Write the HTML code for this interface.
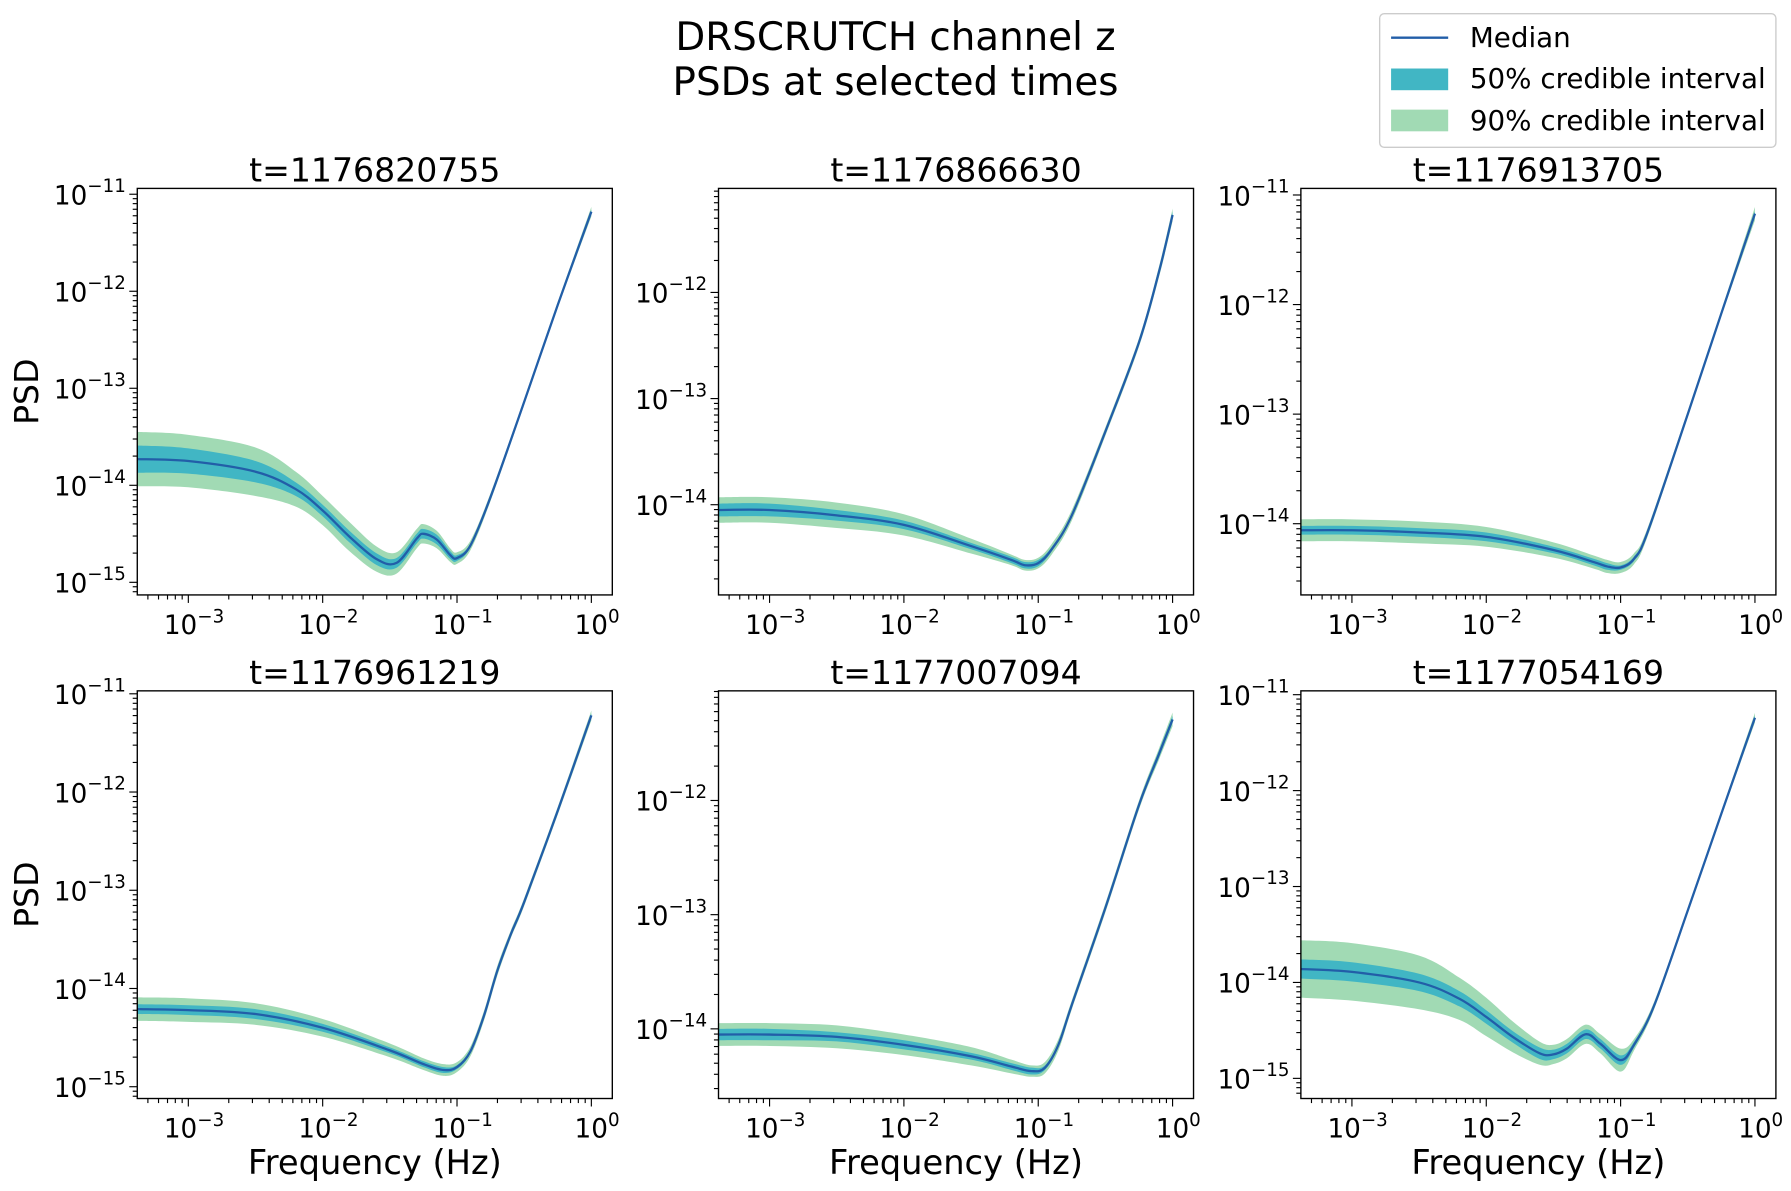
<!DOCTYPE html>
<html><head><meta charset="utf-8">
<style>
html,body{margin:0;padding:0;background:#fff;}
svg{display:block;font-family:"DejaVu Sans","Liberation Sans",sans-serif;}
</style></head>
<body>
<svg id="fig" width="1791" height="1191" viewBox="0 0 1568 1043" xmlns="http://www.w3.org/2000/svg">
<text x="784" y="44" font-size="34" text-anchor="middle">DRSCRUTCH channel z</text>
<text x="784" y="83" font-size="34" text-anchor="middle">PSDs at selected times</text>
<g>
<rect x="1208" y="12" width="347" height="117" rx="4" fill="#fff" stroke="#ccc" stroke-width="1.2"/>
<line x1="1218" y1="33" x2="1268" y2="33" stroke="#225ea8" stroke-width="2"/>
<text x="1287" y="41" font-size="24.3">Median</text>
<rect x="1218" y="60" width="50" height="19" fill="#41b6c4"/>
<text x="1287" y="77" font-size="24.3">50% credible interval</text>
<rect x="1218" y="96" width="50" height="19" fill="#a1dab4"/>
<text x="1287" y="114" font-size="24.3">90% credible interval</text>
</g>
</svg>
<script>
// x axis (log10 frequency) shared range
const xLogRange = [-3.38, 0.156];
const titles = ["t=1176820755","t=1176866630","t=1176913705","t=1176961219","t=1177007094","t=1177054169"];
const yLogRanges = [[-15.13,-10.94],[-14.85,-11.02],[-14.65,-10.94],[-15.12,-10.97],[-14.61,-11.04],[-15.21,-10.96]];
const yTickExps = [[-11,-12,-13,-14,-15],[-12,-13,-14],[-11,-12,-13,-14],[-11,-12,-13,-14,-15],[-12,-13,-14],[-11,-12,-13,-14,-15]];
const xTickExps = [-3,-2,-1,0];

const logF1 = [-3.38,-3,-2.5,-2.2,-2,-1.8,-1.6,-1.45,-1.3,-1.25,-1.15,-1.05,-1,-0.9,-0.75,-0.5,-0.25,0];
const med1 = [-13.73,-13.75,-13.86,-14.04,-14.26,-14.53,-14.76,-14.80,-14.55,-14.50,-14.56,-14.72,-14.75,-14.62,-14.12,-13.14,-12.14,-11.18];
const w90_1 = [0.28,0.27,0.25,0.18,0.15,0.15,0.13,0.11,0.1,0.1,0.09,0.07,0.06,0.05,0.04,0.03,0.03,0.05];
const w50_1 = [0.14,0.13,0.11,0.07,0.06,0.06,0.06,0.05,0.05,0.05,0.05,0.04,0.03,0.02,0.02,0.015,0.015,0.02];

const logF2 = [-3.38,-3,-2.5,-2,-1.5,-1.2,-1.1,-1,-0.9,-0.75,-0.5,-0.25,-0.1,0];
const med2 = [-14.05,-14.05,-14.10,-14.19,-14.39,-14.52,-14.57,-14.55,-14.42,-14.10,-13.31,-12.47,-11.80,-11.27];
const w90_2 = [0.12,0.12,0.12,0.1,0.07,0.05,0.05,0.05,0.05,0.05,0.04,0.04,0.05,0.06];
const w50_2 = [0.06,0.06,0.05,0.04,0.03,0.03,0.03,0.03,0.02,0.02,0.02,0.02,0.03,0.03];

const logF3 = [-3.38,-3,-2.5,-2,-1.5,-1.2,-1.1,-1,-0.9,-0.8,-0.5,-0.25,0];
const med3 = [-14.06,-14.06,-14.08,-14.12,-14.24,-14.35,-14.39,-14.40,-14.32,-14.08,-13.0,-12.08,-11.17];
const w90_3 = [0.1,0.1,0.1,0.09,0.07,0.06,0.06,0.05,0.05,0.04,0.03,0.03,0.06];
const w50_3 = [0.04,0.04,0.04,0.04,0.03,0.03,0.03,0.02,0.02,0.02,0.015,0.015,0.02];

const logF4 = [-3.38,-3,-2.5,-2,-1.5,-1.25,-1.1,-1,-0.9,-0.8,-0.7,-0.6,-0.5,-0.25,0];
const med4 = [-14.21,-14.22,-14.26,-14.40,-14.63,-14.77,-14.83,-14.80,-14.64,-14.28,-13.82,-13.45,-13.12,-12.19,-11.22];
const w90_4 = [0.12,0.12,0.11,0.09,0.07,0.06,0.06,0.05,0.05,0.05,0.05,0.04,0.04,0.04,0.05];
const w50_4 = [0.05,0.05,0.05,0.04,0.03,0.03,0.03,0.02,0.02,0.02,0.02,0.02,0.02,0.02,0.02];

const logF5 = [-3.38,-3,-2.5,-2,-1.5,-1.2,-1.05,-0.95,-0.85,-0.75,-0.5,-0.25,-0.1,0];
const med5 = [-14.05,-14.05,-14.07,-14.14,-14.24,-14.33,-14.37,-14.34,-14.14,-13.79,-12.94,-12.04,-11.59,-11.29];
const w90_5 = [0.1,0.1,0.1,0.09,0.08,0.06,0.05,0.05,0.05,0.04,0.04,0.04,0.05,0.06];
const w50_5 = [0.05,0.05,0.04,0.04,0.03,0.03,0.03,0.02,0.02,0.02,0.02,0.02,0.03,0.03];

const logF6 = [-3.38,-3,-2.5,-2.2,-2,-1.8,-1.6,-1.5,-1.4,-1.26,-1.15,-1,-0.9,-0.75,-0.5,-0.25,0];
const med6 = [-13.86,-13.89,-14.0,-14.17,-14.36,-14.57,-14.74,-14.75,-14.69,-14.54,-14.64,-14.81,-14.65,-14.24,-13.25,-12.24,-11.24];
const w90_6 = [0.3,0.3,0.28,0.22,0.2,0.16,0.12,0.1,0.1,0.1,0.1,0.12,0.06,0.04,0.03,0.03,0.05];
const w50_6 = [0.1,0.1,0.09,0.08,0.07,0.06,0.06,0.05,0.05,0.05,0.05,0.05,0.03,0.02,0.015,0.015,0.02];

const panelF = [logF1,logF2,logF3,logF4,logF5,logF6];
const panelMed = [med1,med2,med3,med4,med5,med6];
const panelW90 = [w90_1,w90_2,w90_3,w90_4,w90_5,w90_6];
const panelW50 = [w50_1,w50_2,w50_3,w50_4,w50_5,w50_6];

const NS = "http://www.w3.org/2000/svg";
const svg = document.getElementById("fig");
const colL = [120, 629, 1139], colW = 416;
const rowT = [165, 605], rowH = [356, 357];

function mk(tag, attrs, parent){ const e=document.createElementNS(NS,tag); for(const k in attrs) e.setAttribute(k,attrs[k]); parent.appendChild(e); return e; }
function smoothPath(pts){
  let d = "M"+pts[0][0].toFixed(2)+","+pts[0][1].toFixed(2);
  for(let i=0;i<pts.length-1;i++){
    const p0=pts[Math.max(i-1,0)],p1=pts[i],p2=pts[i+1],p3=pts[Math.min(i+2,pts.length-1)];
    const c1=[p1[0]+(p2[0]-p0[0])/6,p1[1]+(p2[1]-p0[1])/6];
    const c2=[p2[0]-(p3[0]-p1[0])/6,p2[1]-(p3[1]-p1[1])/6];
    d+="C"+c1[0].toFixed(2)+","+c1[1].toFixed(2)+" "+c2[0].toFixed(2)+","+c2[1].toFixed(2)+" "+p2[0].toFixed(2)+","+p2[1].toFixed(2);
  }
  return d;
}
function bandPath(xs, lo, hi){
  const top = xs.map((x,i)=>[x,hi[i]]);
  const bot = xs.map((x,i)=>[x,lo[i]]).reverse();
  return smoothPath(top) + smoothPath(bot).replace("M","L") + "Z";
}

for(let p=0;p<6;p++){
  const r=Math.floor(p/3), c=p%3;
  const L=colL[c], T=rowT[r], W=colW, H=rowH[r];
  const yr=yLogRanges[p];
  const sx = v => L + (v - xLogRange[0])/(xLogRange[1]-xLogRange[0])*W;
  const sy = v => T + H - (v - yr[0])/(yr[1]-yr[0])*H;
  const g = mk("g",{},svg);
  
  
  const clipId="clip"+p;
  const cp=mk("clipPath",{id:clipId},g); mk("rect",{x:L,y:T,width:W,height:H},cp);
  const dg=mk("g",{"clip-path":"url(#"+clipId+")"},g);
  const xs=panelF[p].map(sx), m=panelMed[p], w9=panelW90[p], w5=panelW50[p];
  const b90=mk("path",{d:bandPath(xs, m.map((v,i)=>sy(v-w9[i])), m.map((v,i)=>sy(v+w9[i]))),fill:"#a1dab4"},dg);
  
  
  const b50=mk("path",{d:bandPath(xs, m.map((v,i)=>sy(v-w5[i])), m.map((v,i)=>sy(v+w5[i]))),fill:"#41b6c4"},dg);
  
  
  const ml=mk("path",{d:smoothPath(xs.map((x,i)=>[x,sy(m[i])])),fill:"none",stroke:"#225ea8","stroke-width":2},dg);
  
  
  mk("rect",{x:L,y:T,width:W,height:H,fill:"none",stroke:"#000","stroke-width":1.2},g);
  for(let e=-4;e<=0;e++){
    for(let k=1;k<=9;k++){
      const v=e+Math.log10(k); if(v<xLogRange[0]||v>xLogRange[1]) continue;
      const x=sx(v); mk("line",{x1:x,y1:T+H,x2:x,y2:T+H+(k===1?7:4),stroke:"#000","stroke-width":1},g);
    }
  }
  xTickExps.forEach(e=>{
    const t=mk("text",{x:sx(e)+5,y:T+H+34,"font-size":23,"text-anchor":"middle"},g);
    
    
    t.appendChild(document.createTextNode("10"));
    const s=mk("tspan",{"font-size":16,dy:-10},t); s.textContent=(e<0?"\u2212"+(-e):""+e);
  });
  for(let e=Math.floor(yr[0]);e<=Math.ceil(yr[1]);e++){
    for(let k=1;k<=9;k++){
      const v=e+Math.log10(k); if(v<yr[0]||v>yr[1]) continue;
      const y=sy(v); mk("line",{x1:L,y1:y,x2:L-(k===1?7:4),y2:y,stroke:"#000","stroke-width":1},g);
    }
  }
  yTickExps[p].forEach(e=>{
    const t=mk("text",{x:L-10,y:sy(e)+9,"font-size":23,"text-anchor":"end"},g);
    
    
    t.appendChild(document.createTextNode("10"));
    const s=mk("tspan",{"font-size":16,dy:-11},t); s.textContent="\u2212"+(-e);
  });
  const tt=mk("text",{x:L+W/2,y:T-6,"font-size":29,"text-anchor":"middle"},g);
  
  
  tt.textContent=titles[p];
  if(c===0){
    const yl=mk("text",{x:0,y:0,"font-size":29,"text-anchor":"middle",transform:"translate(33,"+(T+H/2)+") rotate(-90)"},g);
    
    
    yl.textContent="PSD";
  }
  if(r===1){
    const xl=mk("text",{x:L+W/2,y:1028,"font-size":29.5,"text-anchor":"middle"},g);
    
    
    xl.textContent="Frequency (Hz)";
  }
}
</script>
</body></html>
